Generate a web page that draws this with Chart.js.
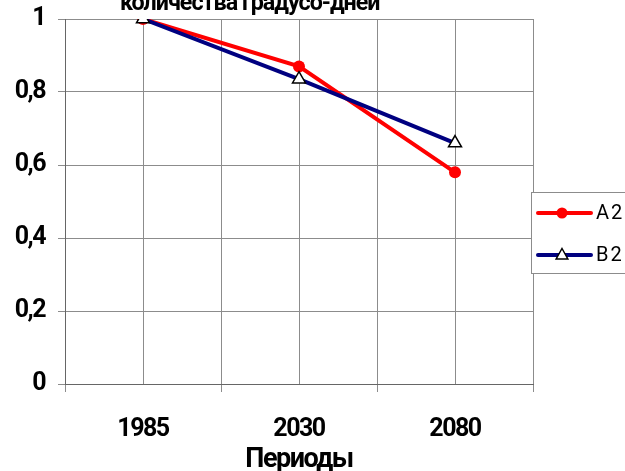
<!DOCTYPE html>
<html>
<head>
<meta charset="utf-8">
<script src="https://cdn.jsdelivr.net/npm/chart.js@4/dist/chart.umd.min.js"></script>
<style>
  html, body { margin: 0; padding: 0; background: #fff; }
  #wrap { position: relative; width: 625px; height: 471px; overflow: hidden; }
  canvas { display: block; }
</style>
</head>
<body>
<div id="wrap"><canvas id="c" width="625" height="471"></canvas></div>
<script>
// Periods along the horizontal axis
const periods = ['1985', '2030', '2080'];
// Relative number of degree-days for each scenario
const seriesA2 = [1, 0.87, 0.58];
const seriesB2 = [1, 0.835, 0.66];
const yTickLabels = ['0', '0,2', '0,4', '0,6', '0,8', '1'];
const titleText = 'количества градусо-дней';
const xTitle = 'Периоды';

const FONT = "Roboto, 'Liberation Sans', sans-serif";
const GRID = '#8c8c8c';
const AXIS_FONT = { family: FONT, size: 25, weight: 'bold', lineHeight: 1 };

const toPoints = arr => arr.map((v, i) => ({ x: i, y: v }));

// Tighter letter spacing for the bold axis text
const tightText = {
  id: 'tightText',
  beforeDraw(chart) { chart.ctx.letterSpacing = '-1.5px'; },
  afterDraw(chart) { chart.ctx.letterSpacing = '0px'; }
};

// Title line partly above the canvas top edge
const titlePlugin = {
  id: 'clippedTitle',
  afterDraw(chart) {
    const ctx = chart.ctx;
    ctx.save();
    ctx.letterSpacing = '-1px';
    ctx.font = "bold 27px " + FONT;
    const w = ctx.measureText(titleText).width;
    const size = 27 * 263 / w;
    ctx.font = "bold " + size.toFixed(1) + "px " + FONT;
    ctx.fillStyle = '#000';
    ctx.textAlign = 'left';
    ctx.textBaseline = 'alphabetic';
    ctx.fillText(titleText, 120, 10);
    ctx.restore();
  }
};

// Boxed legend at the right, each entry a line sample with its marker
const legendPlugin = {
  id: 'boxLegend',
  afterDraw(chart) {
    const ctx = chart.ctx;
    const left = 531, top = 192, bottom = 273;
    ctx.save();
    ctx.letterSpacing = '0px';
    ctx.fillStyle = '#fff';
    ctx.fillRect(left, top, 200, bottom - top);
    ctx.strokeStyle = '#8c8c8c';
    ctx.lineWidth = 1;
    ctx.strokeRect(left + 0.5, top + 0.5, 200, bottom - top);
    const rows = [213, 255];
    chart.data.datasets.forEach((ds, k) => {
      const y = rows[k];
      ctx.strokeStyle = ds.borderColor;
      ctx.lineWidth = ds.borderWidth;
      ctx.lineCap = 'round';
      ctx.beginPath();
      ctx.moveTo(538, y);
      ctx.lineTo(591, y);
      ctx.stroke();
      const cx = 562;
      if (ds.pointStyle === 'triangle') {
        const r = 6.5;
        ctx.beginPath();
        ctx.moveTo(cx, y - r);
        ctx.lineTo(cx + r * 0.9, y + r * 0.6);
        ctx.lineTo(cx - r * 0.9, y + r * 0.6);
        ctx.closePath();
        ctx.fillStyle = ds.pointBackgroundColor;
        ctx.fill();
        ctx.strokeStyle = ds.pointBorderColor;
        ctx.lineWidth = 1.5;
        ctx.lineJoin = 'miter';
        ctx.stroke();
      } else {
        ctx.beginPath();
        ctx.arc(cx, y, 5.5, 0, Math.PI * 2);
        ctx.fillStyle = ds.pointBackgroundColor;
        ctx.fill();
      }
      ctx.fillStyle = '#000';
      ctx.font = "20px " + FONT;
      ctx.letterSpacing = '2px';
      ctx.textAlign = 'left';
      ctx.textBaseline = 'middle';
      ctx.fillText(ds.label, 596, y + 1);
      ctx.letterSpacing = '0px';
    });
    ctx.restore();
  }
};

new Chart(document.getElementById('c'), {
  type: 'line',
  data: {
    datasets: [
      {
        label: 'A2',
        data: toPoints(seriesA2),
        borderColor: '#ff0000',
        backgroundColor: '#ff0000',
        borderWidth: 4,
        pointStyle: 'circle',
        pointRadius: 6,
        pointBackgroundColor: '#ff0000',
        pointBorderColor: '#ff0000',
        pointBorderWidth: 0,
        order: 2
      },
      {
        label: 'B2',
        data: toPoints(seriesB2),
        borderColor: '#000080',
        backgroundColor: '#000080',
        borderWidth: 4,
        pointStyle: 'triangle',
        pointRadius: 7.5,
        pointBackgroundColor: '#ffffff',
        pointBorderColor: '#000000',
        pointBorderWidth: 1.5,
        order: 1
      }
    ]
  },
  options: {
    responsive: false,
    animation: false,
    events: [],
    layout: { padding: { top: 19, right: 92, bottom: 0, left: 0 } },
    plugins: {
      legend: { display: false },
      title: { display: false },
      tooltip: { enabled: false }
    },
    scales: {
      x: {
        type: 'linear',
        min: -0.5,
        max: 2.5,
        afterBuildTicks(scale) {
          const t = [];
          for (let v = -0.5; v <= 2.5; v += 0.5) t.push({ value: v });
          scale.ticks = t;
        },
        afterFit(scale) {
          scale.height = 87;
          scale.paddingLeft = 0;
          scale.paddingRight = 0;
        },
        grid: {
          color: GRID,
          lineWidth: 1,
          tickLength: 8,
          tickColor: c => Number.isInteger(c.tick.value) ? 'rgba(0,0,0,0)' : GRID
        },
        border: { color: '#666', width: 1 },
        ticks: {
          autoSkip: false,
          maxRotation: 0,
          padding: 25,
          color: '#000',
          font: AXIS_FONT,
          callback: v => Number.isInteger(v) ? periods[v] : ''
        },
        title: {
          display: true,
          text: xTitle,
          color: '#000',
          font: { family: FONT, size: 27, weight: 'bold', lineHeight: 1 },
          padding: { top: 0, bottom: -3 }
        }
      },
      y: {
        min: 0,
        max: 1,
        afterBuildTicks(scale) {
          scale.ticks = [0, 0.2, 0.4, 0.6, 0.8, 1].map(v => ({ value: v }));
        },
        afterFit(scale) {
          scale.width = 65;
          scale.paddingTop = 0;
          scale.paddingBottom = 0;
        },
        grid: { color: GRID, lineWidth: 1, tickLength: 7, tickColor: GRID },
        border: { color: '#666', width: 1 },
        ticks: {
          padding: 13,
          color: '#000',
          font: AXIS_FONT,
          callback: (v, i) => yTickLabels[i]
        }
      }
    }
  },
  plugins: [tightText, titlePlugin, legendPlugin]
});
</script>
</body>
</html>
